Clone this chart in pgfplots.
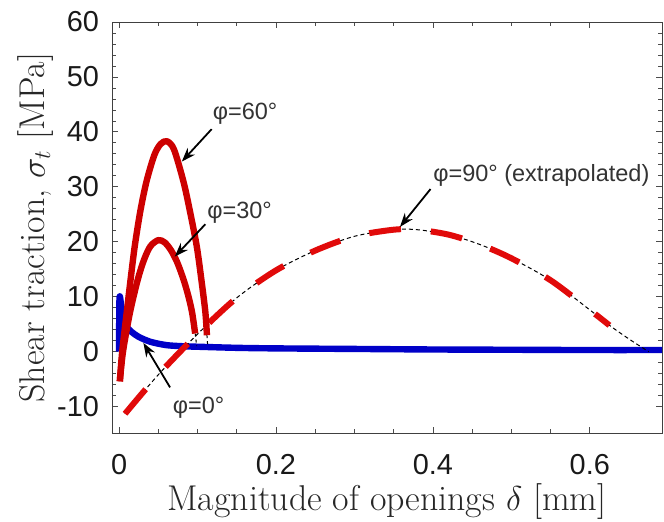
\documentclass[border=0pt]{standalone}
\usepackage{pgfplots}
\pgfplotsset{compat=1.18}
\usepackage{fontspec}
\newfontfamily\arial{Liberation Sans}
\usetikzlibrary{arrows.meta}

\definecolor{cred}{RGB}{205,0,0}
\definecolor{cdash}{RGB}{225,10,10}
\definecolor{cblue}{RGB}{0,0,200}

\begin{document}
\begin{tikzpicture}
\begin{axis}[
  at={(0,0)}, anchor=south west,
  scale only axis, width=275bp, height=205.5bp,
  xmin=-0.009, xmax=0.692, ymin=-14.8, ymax=60,
  xtick={0,0.2,0.4,0.6}, ytick={-10,0,...,60},
  minor x tick num=3, minor y tick num=4,
  tick align=inside, major tick length=3bp, minor tick length=1.8bp,
  axis line style={black!75, line width=0.5bp},
  every tick/.style={black!70, line width=0.4bp},
  tick label style={font=\arial\fontsize{14.5}{16}\selectfont, text=black!90},
  /pgf/number format/assume math mode=true,
  xticklabel style={yshift=-7bp},
  yticklabel style={xshift=-3bp},
  xlabel={Magnitude of openings $\delta$ [mm]},
  ylabel={Shear traction, $\sigma_t$ [MPa]},
  label style={font=\fontsize{18}{20}\selectfont, text=black!85},
  xlabel style={at={(axis description cs:0.5,-0.107)}, anchor=north},
  ylabel style={at={(axis description cs:-0.093,0.5)}, anchor=south},
]
% phi = 0
\addplot[cblue, line width=3.2bp, line join=round, smooth] coordinates {
 (0,0) (0.0006,9.8) (0.003,8) (0.006,5.8) (0.01,4.5) (0.016,3.6) (0.025,2.7)
 (0.04,1.8) (0.06,1.2) (0.08,1.0) (0.1,0.9) (0.15,0.7) (0.2,0.6) (0.3,0.5)
 (0.4,0.4) (0.5,0.35) (0.6,0.3) (0.7,0.3)
};
% phi = 90 (extrapolated), thin guide
\addplot[black, line width=0.5bp, dash pattern=on 2bp off 1.5bp, smooth] coordinates {
 (0.0076,-11.3) (0.05,-4.2) (0.1,3.2) (0.15,9.8) (0.2,14.8) (0.25,18.4)
 (0.3,21) (0.35,22.2) (0.38,22.2) (0.42,21.3) (0.46,19.5) (0.5,17)
 (0.55,13) (0.6,7.6) (0.625,4.8) (0.65,2.3) (0.675,0)
};
\addplot[cdash, line width=3bp, dash pattern=on 16bp off 15bp, smooth] coordinates {
 (0.0076,-11.3) (0.05,-4.2) (0.1,3.2) (0.15,9.8) (0.2,14.8) (0.25,18.4)
 (0.3,21) (0.35,22.2) (0.38,22.2) (0.42,21.3) (0.46,19.5) (0.5,17)
 (0.55,13) (0.6,7.6) (0.625,4.8)
};
% short guides below the solid curves
\addplot[black, line width=0.5bp, dash pattern=on 1.5bp off 1.5bp] coordinates {(0.097,3.3) (0.099,1.0)};
\addplot[black, line width=0.5bp, dash pattern=on 1.5bp off 1.5bp] coordinates {(0.112,3) (0.113,1.0)};
% phi = 30
\addplot[cred, line width=3.2bp, line join=round, smooth] coordinates {
 (0.001,-5.4) (0.005,0) (0.014,7.2) (0.024,13.2) (0.032,16.8) (0.040,19.2)
 (0.050,20.3) (0.058,19.9) (0.066,18.5) (0.074,16.3) (0.082,13.2)
 (0.088,10.3) (0.093,7.2) (0.097,3.3)
};
% phi = 60
\addplot[cred, line width=3.2bp, line join=round, smooth] coordinates {
 (0.001,-5.4) (0.004,0) (0.0098,7.2) (0.015,13.5) (0.020,19.2) (0.027,25.5)
 (0.035,31) (0.045,35.8) (0.053,37.8) (0.061,38.3) (0.07,36.8) (0.082,31)
 (0.09,25.8) (0.099,19.2) (0.105,13) (0.110,7.2) (0.112,3)
};
% annotations
\begin{scope}[every node/.style={font=\arial\fontsize{11.8}{13}\selectfont, text=black!80, anchor=west, inner sep=0pt}]
\node at (axis cs:0.119,43.3) {φ=60°};
\node at (axis cs:0.112,25.2) {φ=30°};
\node at (axis cs:0.400,32.0) {φ=90° (extrapolated)};
\node at (axis cs:0.068,-10.2) {φ=0°};
\end{scope}
\begin{scope}[-{Stealth[length=7bp,width=5bp]}, line width=0.9bp]
\draw (axis cs:0.118,40.5) -- (axis cs:0.080,34.6);
\draw (axis cs:0.110,23.2) -- (axis cs:0.071,17.3);
\draw (axis cs:0.397,29.6) -- (axis cs:0.358,22.7);
\draw (axis cs:0.065,-6.5) -- (axis cs:0.031,1.6);
\end{scope}
\end{axis}
\pgfresetboundingbox
\useasboundingbox (-56bp,-44.5bp) rectangle (276bp,216.5bp);
\end{tikzpicture}
\end{document}
